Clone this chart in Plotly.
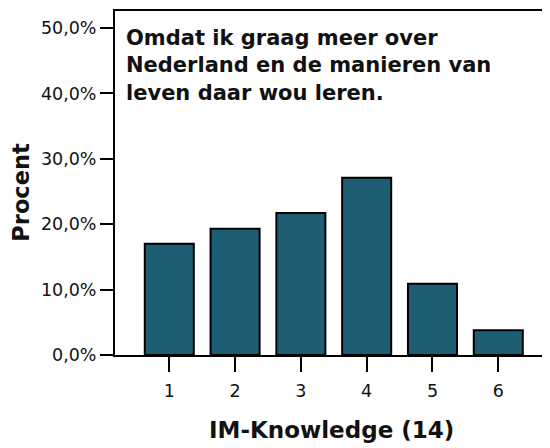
import plotly.graph_objects as go

categories = ["1", "2", "3", "4", "5", "6"]
percent = [17.0, 19.3, 21.7, 27.1, 10.9, 3.8]
y_ticks = [0, 10, 20, 30, 40, 50]
y_tick_labels = ["0,0%", "10,0%", "20,0%", "30,0%", "40,0%", "50,0%"]
title_lines = ["Omdat ik graag meer over", "Nederland en de manieren van", "leven daar wou leren."]
x_title = "IM-Knowledge (14)"
y_title = "Procent"

FONT = "DejaVu Sans"
TXT = "#111111"

fig = go.Figure()
fig.add_trace(go.Bar(
    x=[int(c) for c in categories],
    y=percent,
    width=0.745,
    marker=dict(color="#1e5e75", line=dict(color="black", width=2)),
    hoverinfo="skip",
))

# page body has an 8px margin: shrink figure so it fills the 550x448 window
fig.update_layout(
    width=542, height=440,
    margin=dict(l=107, r=0, t=3, b=93),
    plot_bgcolor="white", paper_bgcolor="white",
    showlegend=False,
    font=dict(family=FONT, color=TXT),
    xaxis=dict(
        range=[0.175, 6.786],
        tickvals=[int(c) for c in categories],
        ticktext=categories,
        showgrid=False, zeroline=False,
        showline=True, linecolor="black", linewidth=2, mirror=True,
        ticks="outside", ticklen=15, tickwidth=2, tickcolor="black",
        ticklabelstandoff=4,
        tickfont=dict(family=FONT, size=17.5, color=TXT),
    ),
    yaxis=dict(
        range=[0, 52.6],
        tickvals=y_ticks,
        ticktext=y_tick_labels,
        showgrid=False, zeroline=False,
        showline=True, linecolor="black", linewidth=2,
        ticks="outside", ticklen=13, tickwidth=2, tickcolor="black",
        tickfont=dict(family=FONT, size=17.5, color=TXT),
    ),
)

fig.add_annotation(
    xref="paper", yref="paper",
    x=0.02, y=0.963, xanchor="left", yanchor="top",
    text="<b>" + "<br>".join(title_lines) + "</b>",
    showarrow=False, align="left",
    font=dict(family=FONT, size=21, color=TXT),
)
fig.add_annotation(
    xref="paper", yref="paper",
    x=-0.216, y=0.472, xanchor="center", yanchor="middle",
    text="<b>" + y_title + "</b>", textangle=-90,
    showarrow=False,
    font=dict(family=FONT, size=22.5, color=TXT),
)
fig.add_annotation(
    xref="paper", yref="paper",
    x=0.4966, y=-0.218, xanchor="center", yanchor="middle",
    text="<b>" + x_title + "</b>",
    showarrow=False,
    font=dict(family=FONT, size=23, color=TXT),
)

fig.write_html("out.html")
